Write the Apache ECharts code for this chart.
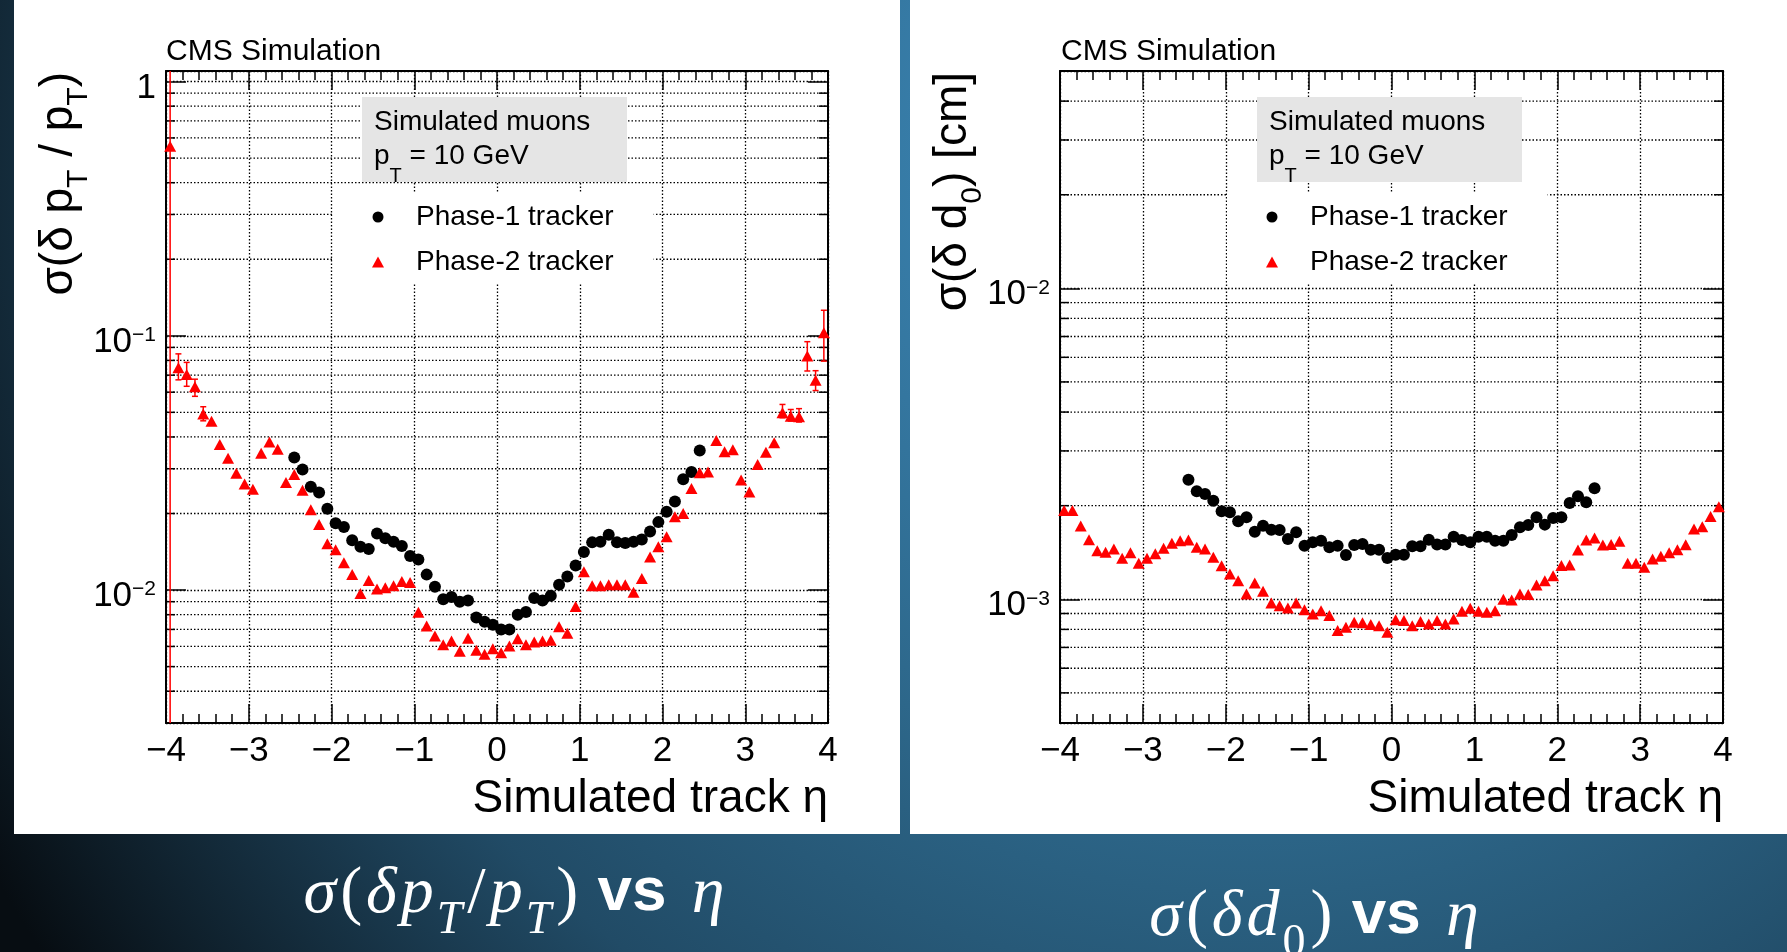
<!DOCTYPE html>
<html>
<head>
<meta charset="utf-8">
<title>CMS tracker resolution vs eta</title>
<script src="https://cdn.jsdelivr.net/npm/echarts@6/dist/echarts.min.js"></script>
<style>
  html, body { margin: 0; padding: 0; background: #0c1a24; }
  #main { width: 1787px; height: 952px; }
</style>
</head>
<body>
<div id="main"></div>
<script>
  // eta bin centres (bin width 0.1)
  var etaBins = [-3.95, -3.85, -3.75, -3.65, -3.55, -3.45, -3.35, -3.25, -3.15, -3.05,
    -2.95, -2.85, -2.75, -2.65, -2.55, -2.45, -2.35, -2.25, -2.15, -2.05,
    -1.95, -1.85, -1.75, -1.65, -1.55, -1.45, -1.35, -1.25, -1.15, -1.05,
    -0.95, -0.85, -0.75, -0.65, -0.55, -0.45, -0.35, -0.25, -0.15, -0.05,
    0.05, 0.15, 0.25, 0.35, 0.45, 0.55, 0.65, 0.75, 0.85, 0.95,
    1.05, 1.15, 1.25, 1.35, 1.45, 1.55, 1.65, 1.75, 1.85, 1.95,
    2.05, 2.15, 2.25, 2.35, 2.45, 2.55, 2.65, 2.75, 2.85, 2.95,
    3.05, 3.15, 3.25, 3.35, 3.45, 3.55, 3.65, 3.75, 3.85, 3.95]
  // phase-1 only covers |eta| < 2.5
  var etaPhase1 = [-2.45, -2.35, -2.25, -2.15, -2.05, -1.95, -1.85, -1.75, -1.65, -1.55,
    -1.45, -1.35, -1.25, -1.15, -1.05, -0.95, -0.85, -0.75, -0.65, -0.55,
    -0.45, -0.35, -0.25, -0.15, -0.05, 0.05, 0.15, 0.25, 0.35, 0.45,
    0.55, 0.65, 0.75, 0.85, 0.95, 1.05, 1.15, 1.25, 1.35, 1.45,
    1.55, 1.65, 1.75, 1.85, 1.95, 2.05, 2.15, 2.25, 2.35, 2.45]

  // sigma(dpT/pT)
  var ptPhase2 = [0.556, 0.0748, 0.0705, 0.063, 0.0493, 0.0461, 0.0374, 0.033, 0.0288, 0.0261,
    0.0249, 0.0345, 0.0382, 0.0358, 0.0265, 0.0285, 0.0247, 0.0207, 0.0181, 0.0152,
    0.0144, 0.0128, 0.0115, 0.0097, 0.0109, 0.0101, 0.0102, 0.0104, 0.0108, 0.0107,
    0.00817, 0.00722, 0.00659, 0.0061, 0.0063, 0.00574, 0.00646, 0.0058, 0.00559, 0.00588,
    0.00567, 0.00603, 0.00644, 0.0061, 0.00625, 0.0063, 0.00634, 0.00718, 0.00676, 0.00862,
    0.0118, 0.0104, 0.0104, 0.0105, 0.0105, 0.0105, 0.0098, 0.0111, 0.0135, 0.0148,
    0.0162, 0.0194, 0.0200, 0.0251, 0.0289, 0.0291, 0.0387, 0.035, 0.0356, 0.0271,
    0.0243, 0.0312, 0.0348, 0.038, 0.0498, 0.0483, 0.048, 0.0832, 0.0669, 0.1027]
  var ptPhase1 = [0.0332, 0.0298, 0.0255, 0.0242, 0.0209, 0.0183, 0.0177, 0.0157, 0.0148, 0.0145,
    0.0167, 0.0160, 0.0155, 0.0149, 0.0136, 0.0132, 0.0115, 0.0103, 0.0092, 0.0094,
    0.0090, 0.0091, 0.0078, 0.0075, 0.0073, 0.0070, 0.0070, 0.0080, 0.0082, 0.0093,
    0.0091, 0.0095, 0.0105, 0.0113, 0.0125, 0.0141, 0.0154, 0.0155, 0.0165, 0.0154,
    0.0153, 0.0155, 0.0158, 0.0170, 0.0185, 0.0203, 0.0223, 0.0273, 0.0291, 0.0354]
  // visible error bars of phase-2: [eta, low, high]
  var ptPhase2Err = [[-3.95, 0.001, 3], [-3.85, 0.0671, 0.0849], [-3.75, 0.0633, 0.0786],
    [-3.65, 0.0578, 0.0675], [-3.55, 0.0463, 0.0526], [3.45, 0.0476, 0.0537],
    [3.55, 0.0462, 0.0513], [3.65, 0.0458, 0.0517], [3.75, 0.0727, 0.0948],
    [3.85, 0.0609, 0.0729], [3.95, 0.0795, 0.126]]

  // sigma(d0) [cm]
  var d0Phase2 = [0.00193, 0.00193, 0.00172, 0.001555, 0.001433, 0.001416, 0.001452, 0.001354, 0.00141, 0.001305,
    0.001354, 0.0014, 0.001459, 0.001514, 0.001543, 0.00155, 0.00147, 0.001452, 0.001365, 0.001282,
    0.001206, 0.001147, 0.00104, 0.001128, 0.001061, 0.000973, 0.000954, 0.000938, 0.000973, 0.000926,
    0.000897, 0.000919, 0.000886, 0.000793, 0.000813, 0.000844, 0.00084, 0.000829, 0.000822, 0.000783,
    0.00086, 0.000854, 0.000822, 0.000848, 0.000833, 0.000854, 0.000833, 0.000864, 0.000915, 0.000935,
    0.000915, 0.000908, 0.000919, 0.001, 0.000995, 0.00104, 0.001035, 0.001111, 0.001148, 0.001191,
    0.001283, 0.00129, 0.00144, 0.001551, 0.001574, 0.001495, 0.0015, 0.001536, 0.001305, 0.001305,
    0.001267, 0.001348, 0.001374, 0.00141, 0.001444, 0.001498, 0.001683, 0.001712, 0.001845, 0.001985]
  var d0Phase1 = [0.002424, 0.002225, 0.002181, 0.002075, 0.001919, 0.001905, 0.001782, 0.001835, 0.00165, 0.001725,
    0.001674, 0.00167, 0.001563, 0.001642, 0.001487, 0.001525, 0.001543, 0.001469, 0.001487, 0.001388,
    0.001495, 0.001506, 0.001444, 0.001444, 0.001358, 0.001391, 0.00139, 0.00148, 0.00148, 0.001555,
    0.0015, 0.0015, 0.00159, 0.001552, 0.001525, 0.00159, 0.00159, 0.001543, 0.001543, 0.001609,
    0.001704, 0.001734, 0.001835, 0.001738, 0.001826, 0.001835, 0.00204, 0.002144, 0.00205, 0.002275]

  // axis ranges and log minor ticks
  var etaRange = [-4, 4]
  var ptRange = [0.003, 1.1]
  var d0Range = [0.0004, 0.05]
  var ptMinorTicks = [0.004, 0.005, 0.006, 0.007, 0.008, 0.009,
    0.02, 0.03, 0.04, 0.05, 0.06, 0.07, 0.08, 0.09,
    0.2, 0.3, 0.4, 0.5, 0.6, 0.7, 0.8, 0.9]
  var d0MinorTicks = [0.0005, 0.0006, 0.0007, 0.0008, 0.0009,
    0.002, 0.003, 0.004, 0.005, 0.006, 0.007, 0.008, 0.009,
    0.02, 0.03, 0.04]

  var FONT = '"Liberation Sans", Arial, Helvetica, sans-serif'
  var SERIF = '"Liberation Serif", "DejaVu Serif", serif'
  var gridLine = {color: '#000', width: 1.3, type: [1.5, 2]}

  function zip(xs, ys) {
    return xs.map(function (x, i) { return [x, ys[i]] })
  }

  function decadeLabel(v) {
    var l = Math.log10(v)
    var e = Math.round(l)
    if (Math.abs(l - e) > 1e-6) return ''
    if (e === 0) return '{b|1}'
    return '{b|10}{s|\u2212' + (-e) + '}'
  }

  function xAxis(gridIndex, bottom) {
    return {
      type: 'value', gridIndex: gridIndex, position: bottom ? 'bottom' : 'top',
      min: etaRange[0], max: etaRange[1], interval: 1,
      axisLine: {show: true, onZero: false, lineStyle: {color: '#000', width: 2}},
      axisTick: {show: true, inside: true, length: 19, lineStyle: {color: '#000', width: 1.5}},
      minorTick: {show: true, splitNumber: 5, length: 9, lineStyle: {color: '#000', width: 1.5}},
      splitLine: {show: bottom, lineStyle: gridLine},
      axisLabel: {
        show: bottom, fontSize: 35, fontFamily: FONT, color: '#000', margin: 11,
        formatter: function (v) { return v < 0 ? '\u2212' + (-v) : String(v) }
      }
    }
  }

  function yAxis(gridIndex, left, range) {
    return {
      type: 'log', logBase: 10, gridIndex: gridIndex, position: left ? 'left' : 'right',
      min: range[0], max: range[1],
      axisLine: {show: true, onZero: false, lineStyle: {color: '#000', width: 2}},
      axisTick: {show: true, inside: true, length: 20, lineStyle: {color: '#000', width: 1.5}},
      splitLine: {show: left, lineStyle: gridLine},
      axisLabel: {
        show: left, margin: 10, formatter: decadeLabel,
        rich: {
          b: {fontSize: 35, fontFamily: FONT, color: '#000', lineHeight: 40, padding: [9, 0, 0, 0], verticalAlign: 'top'},
          s: {fontSize: 21, fontFamily: FONT, color: '#000', lineHeight: 22, padding: [9, 0, 0, 0], verticalAlign: 'top'}
        }
      }
    }
  }

  // dotted minor grid lines + minor ticks on both sides for the log axis
  function minorSeries(axisIndex, ticks) {
    return {
      type: 'custom', xAxisIndex: axisIndex * 2, yAxisIndex: axisIndex * 2, z: 1, silent: true,
      data: ticks.map(function (v) { return [etaRange[0], v] }),
      renderItem: function (params, api) {
        var v = api.value(1)
        var a = api.coord([etaRange[0], v])
        var b = api.coord([etaRange[1], v])
        var tick = {stroke: '#000', lineWidth: 1.5}
        return {
          type: 'group', children: [
            {type: 'line', shape: {x1: a[0], y1: a[1], x2: b[0], y2: b[1]}, style: {stroke: '#000', lineWidth: 1.3, lineDash: [1.5, 2]}},
            {type: 'line', shape: {x1: a[0], y1: a[1], x2: a[0] + 9, y2: a[1]}, style: tick},
            {type: 'line', shape: {x1: b[0] - 9, y1: b[1], x2: b[0], y2: b[1]}, style: tick}
          ]
        }
      }
    }
  }

  function errorSeries(axisIndex, errs) {
    return {
      type: 'custom', xAxisIndex: axisIndex * 2, yAxisIndex: axisIndex * 2, z: 3, silent: true, clip: true,
      data: errs,
      renderItem: function (params, api) {
        var x = api.value(0)
        var lo = api.coord([x, api.value(1)])
        var hi = api.coord([x, api.value(2)])
        var st = {stroke: '#ff0000', lineWidth: 1.5}
        return {
          type: 'group', children: [
            {type: 'line', shape: {x1: lo[0], y1: lo[1], x2: hi[0], y2: hi[1]}, style: st},
            {type: 'line', shape: {x1: lo[0] - 3, y1: lo[1], x2: lo[0] + 3, y2: lo[1]}, style: st},
            {type: 'line', shape: {x1: hi[0] - 3, y1: hi[1], x2: hi[0] + 3, y2: hi[1]}, style: st}
          ]
        }
      }
    }
  }

  function scatter(name, axisIndex, data, symbol, size, color) {
    return {
      name: name, type: 'scatter', xAxisIndex: axisIndex * 2, yAxisIndex: axisIndex * 2,
      data: data, symbol: symbol, symbolSize: size, z: 4, silent: true,
      itemStyle: {color: color, opacity: 1}
    }
  }

  function legend(left) {
    return {
      left: left, top: 193, orient: 'vertical', backgroundColor: '#fff',
      padding: [7, 40, 4, 39], itemWidth: 12, itemHeight: 11, itemGap: 11,
      selectedMode: false,
      textStyle: {fontSize: 28, fontFamily: FONT, color: '#000', lineHeight: 34, padding: [0, 0, 0, 27]},
      data: [{name: 'Phase-1 tracker', icon: 'circle'}, {name: 'Phase-2 tracker', icon: 'triangle'}]
    }
  }

  var titleRich = {
    m: {fontSize: 46, fontFamily: FONT, fill: '#000', lineHeight: 56, verticalAlign: 'top'},
    s: {fontSize: 30, fontFamily: FONT, fill: '#000', lineHeight: 30, padding: [28, 0, 0, 0], verticalAlign: 'top'}
  }
  var boxRich = {
    m: {fontSize: 28, fontFamily: FONT, fill: '#000', lineHeight: 34, verticalAlign: 'top'},
    s: {fontSize: 20, fontFamily: FONT, fill: '#000', lineHeight: 20, padding: [24, 0, 0, 0], verticalAlign: 'top'}
  }
  var capRich = {
    m: {fontSize: 66, fontFamily: SERIF, fontStyle: 'italic', fill: '#fff', lineHeight: 74, verticalAlign: 'top', padding: [0, 2, 0, 2]},
    e: {fontSize: 66, fontFamily: SERIF, fontStyle: 'italic', fill: '#fff', lineHeight: 74, verticalAlign: 'top', padding: [0, 6, 0, 8]},
    r: {fontSize: 66, fontFamily: SERIF, fill: '#fff', lineHeight: 74, verticalAlign: 'top', padding: [0, 2, 0, 2]},
    s: {fontSize: 46, fontFamily: SERIF, fontStyle: 'italic', fill: '#fff', lineHeight: 46, padding: [36, 3, 0, 1], verticalAlign: 'top'},
    u: {fontSize: 46, fontFamily: SERIF, fill: '#fff', lineHeight: 46, padding: [36, 3, 0, 1], verticalAlign: 'top'},
    v: {fontSize: 62, fontFamily: FONT, fontWeight: 'bold', fill: '#fff', lineHeight: 74, verticalAlign: 'top'}
  }

  function panelTexts(x0, frameRight, yTitle) {
    return [
      {type: 'rect', z: 10, shape: {x: x0 + 196, y: 97, width: 265, height: 85}, style: {fill: '#e5e5e5'}},
      {type: 'text', z: 11, x: x0 + 208, y: 122, style: {text: 'Simulated muons', fontSize: 28, fontFamily: FONT, fill: '#000', verticalAlign: 'middle'}},
      {type: 'text', z: 11, x: x0 + 208, y: 159, style: {text: '{m|p}{s|T}{m| = 10 GeV}', rich: boxRich, verticalAlign: 'middle'}},
      {type: 'text', z: 11, x: x0, y: 52, style: {text: 'CMS Simulation', fontSize: 30, fontFamily: FONT, fill: '#000', verticalAlign: 'middle'}},
      {type: 'text', z: 11, x: frameRight, y: 799, style: {text: 'Simulated track \u03b7', fontSize: 46, fontFamily: FONT, fill: '#000', align: 'right', verticalAlign: 'middle'}},
      {type: 'text', z: 11, x: yTitle.x, y: 72, rotation: Math.PI / 2, style: {text: yTitle.text, rich: titleRich, align: 'right', verticalAlign: 'middle'}}
    ]
  }

  var chart = echarts.init(document.getElementById('main'))

  var option = {
    animation: false,
    grid: [
      {left: 166, top: 71, width: 662, height: 652, outerBoundsMode: 'none'},
      {left: 1060, top: 71, width: 663, height: 652, outerBoundsMode: 'none'}
    ],
    xAxis: [xAxis(0, true), xAxis(0, false), xAxis(1, true), xAxis(1, false)],
    yAxis: [yAxis(0, true, ptRange), yAxis(0, false, ptRange), yAxis(1, true, d0Range), yAxis(1, false, d0Range)],
    legend: [legend(333), legend(1227)],
    graphic: {
      elements: [
        {type: 'rect', z: -10, shape: {x: 0, y: 0, width: 1787, height: 952}, style: {
          fill: {type: 'radial', x: 1250, y: 150, r: 1450, global: true, colorStops: [
            {offset: 0, color: '#4192c6'}, {offset: 0.45, color: '#2d678a'},
            {offset: 0.7, color: '#214b66'}, {offset: 1, color: '#070d12'}]}
        }},
        {type: 'rect', z: -9, shape: {x: 14, y: 0, width: 886, height: 834}, style: {fill: '#fff'}},
        {type: 'rect', z: -9, shape: {x: 910, y: 0, width: 877, height: 834}, style: {fill: '#fff'}},
        {type: 'text', z: 11, x: 516, y: 899, style: {
          text: '{m|\u03c3}{r|(}{m|\u03b4}{m|p}{s|T}{r|/}{m|p}{s|T}{r|)}{v| vs }{e|\u03b7}',
          rich: capRich, align: 'center', verticalAlign: 'middle'}},
        {type: 'text', z: 11, x: 1316, y: 922, style: {
          text: '{m|\u03c3}{r|(}{m|\u03b4}{m|d}{u|0}{r|)}{v| vs }{e|\u03b7}',
          rich: capRich, align: 'center', verticalAlign: 'middle'}}
      ].concat(
        panelTexts(166, 828, {x: 64, text: '{m|\u03c3(\u03b4 p}{s|T}{m| / p}{s|T}{m|)}'}),
        panelTexts(1061, 1723, {x: 958, text: '{m|\u03c3(\u03b4 d}{s|0}{m|) [cm]}'})
      )
    },
    series: [
      minorSeries(0, ptMinorTicks),
      errorSeries(0, ptPhase2Err),
      scatter('Phase-1 tracker', 0, zip(etaPhase1, ptPhase1), 'circle', 12, '#000'),
      scatter('Phase-2 tracker', 0, zip(etaBins, ptPhase2), 'triangle', [12, 11], '#ff0000'),
      minorSeries(1, d0MinorTicks),
      scatter('Phase-1 tracker', 1, zip(etaPhase1, d0Phase1), 'circle', 12, '#000'),
      scatter('Phase-2 tracker', 1, zip(etaBins, d0Phase2), 'triangle', [12, 11], '#ff0000')
    ]
  }

  chart.setOption(option)
</script>
</body>
</html>
